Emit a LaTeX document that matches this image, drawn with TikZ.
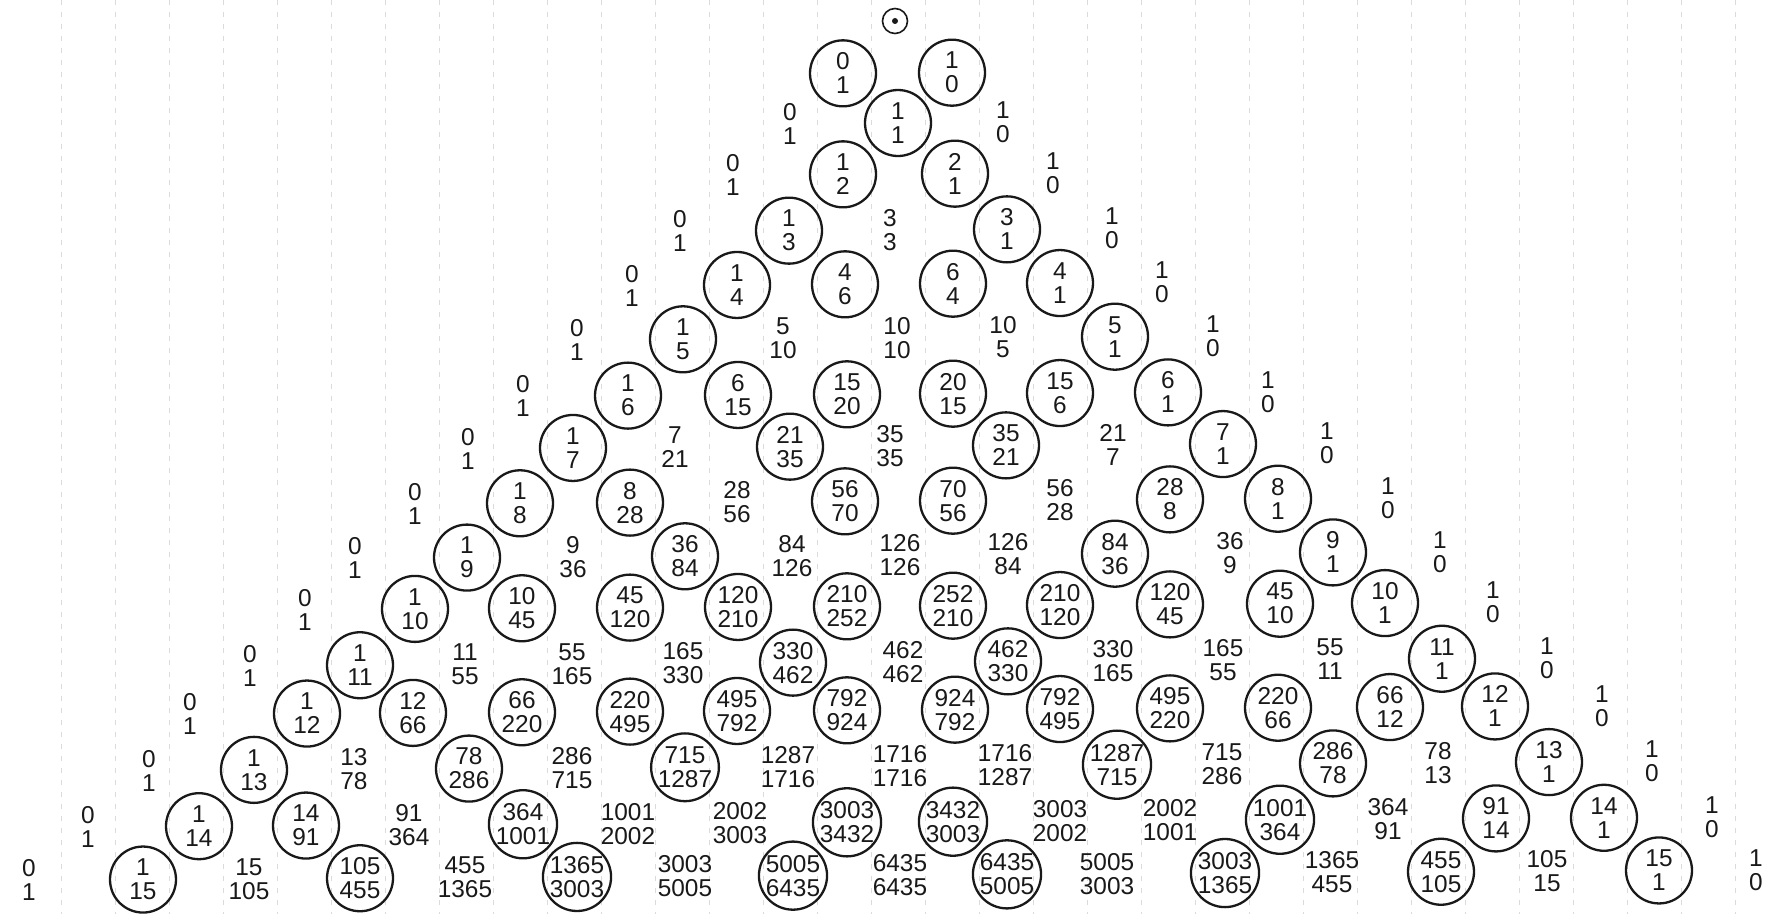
\documentclass[tikz,border=0pt]{standalone}
\usepackage{fontspec}
\newfontfamily\numfont{Liberation Sans}
\definecolor{ink}{gray}{0.1}
\definecolor{rule}{gray}{0.86}
\tikzset{
  num/.style={font=\numfont\fontsize{12.2}{12}\selectfont, align=center, inner sep=0pt, text=ink},
  ring/.style={num, circle, draw=ink, line width=1.15pt, minimum size=33pt},
  bare/.style={num},
  paperline/.style={draw=rule, line width=0.45pt, dash pattern=on 2.5pt off 3.5pt},
}
\newcommand\pyrrow[3]{%
  \foreach \qx/\qa/\qb/\qs [count=\qi] in {#3} {%
    \pgfmathsetmacro\qy{#2-0.006*(\qx-900)}%
    \node[\qs] (r#1-\qi) at (\qx,\qy) {\qa\\\qb};
  }}
\begin{document}
\begin{tikzpicture}[x=0.5pt,y=-0.5pt]
\useasboundingbox (0,0) rectangle (1774,914);
\fill[white] (0,0) rectangle (1774,914);
% faint ruling of the paper
\foreach \j in {0,...,31} \draw[paperline] ({61+54*\j},0) -- ({61+54*\j},914);
% top mark
\node[circle, draw=ink, line width=0.8pt, minimum size=12.5pt, inner sep=0pt] (star) at (895,21) {};
\fill[ink] (star.center) circle (3);
% rows
\pyrrow{0}{73}{843/0/1/ring, 952/1/0/ring}
\pyrrow{1}{123}{790/0/1/bare, 898/1/1/ring, 1003/1/0/bare}
\pyrrow{2}{174}{733/0/1/bare, 843/1/2/ring, 955/2/1/ring, 1053/1/0/bare}
\pyrrow{3}{230}{680/0/1/bare, 789/1/3/ring, 890/3/3/bare, 1007/3/1/ring, 1112/1/0/bare}
\pyrrow{4}{284}{632/0/1/bare, 737/1/4/ring, 845/4/6/ring, 953/6/4/ring, 1060/4/1/ring, 1162/1/0/bare}
\pyrrow{5}{338}{577/0/1/bare, 683/1/5/ring, 783/5/10/bare, 897/10/10/bare, 1003/10/5/bare, 1115/5/1/ring, 1213/1/0/bare}
\pyrrow{6}{394}{523/0/1/bare, 628/1/6/ring, 738/6/15/ring, 847/15/20/ring, 953/20/15/ring, 1060/15/6/ring, 1168/6/1/ring, 1268/1/0/bare}
\pyrrow{7}{446}{468/0/1/bare, 573/1/7/ring, 675/7/21/bare, 790/21/35/ring, 890/35/35/bare, 1006/35/21/ring, 1113/21/7/bare, 1223/7/1/ring, 1327/1/0/bare}
\pyrrow{8}{501}{415/0/1/bare, 520/1/8/ring, 630/8/28/ring, 737/28/56/bare, 845/56/70/ring, 953/70/56/ring, 1060/56/28/bare, 1170/28/8/ring, 1278/8/1/ring, 1388/1/0/bare}
\pyrrow{9}{555}{355/0/1/bare, 467/1/9/ring, 573/9/36/bare, 685/36/84/ring, 792/84/126/bare, 900/126/126/bare, 1008/126/84/bare, 1115/84/36/ring, 1230/36/9/bare, 1333/9/1/ring, 1440/1/0/bare}
\pyrrow{10}{606}{305/0/1/bare, 415/1/10/ring, 522/10/45/ring, 630/45/120/ring, 738/120/210/ring, 847/210/252/ring, 953/252/210/ring, 1060/210/120/ring, 1170/120/45/ring, 1280/45/10/ring, 1385/10/1/ring, 1493/1/0/bare}
\pyrrow{11}{662}{250/0/1/bare, 360/1/11/ring, 465/11/55/bare, 572/55/165/bare, 683/165/330/bare, 793/330/462/ring, 903/462/462/bare, 1008/462/330/ring, 1113/330/165/bare, 1223/165/55/bare, 1330/55/11/bare, 1442/11/1/ring, 1547/1/0/bare}
\pyrrow{12}{710}{190/0/1/bare, 307/1/12/ring, 413/12/66/ring, 522/66/220/ring, 630/220/495/ring, 737/495/792/ring, 847/792/924/ring, 955/924/792/ring, 1060/792/495/ring, 1170/495/220/ring, 1278/220/66/ring, 1390/66/12/ring, 1495/12/1/ring, 1602/1/0/bare}
\pyrrow{13}{766}{149/0/1/bare, 254/1/13/ring, 354/13/78/bare, 469/78/286/ring, 572/286/715/bare, 685/715/1287/ring, 788/1287/1716/bare, 900/1716/1716/bare, 1005/1716/1287/bare, 1117/1287/715/ring, 1222/715/286/bare, 1333/286/78/ring, 1438/78/13/bare, 1549/13/1/ring, 1652/1/0/bare}
\pyrrow{14}{822}{88/0/1/bare, 199/1/14/ring, 306/14/91/ring, 409/91/364/bare, 523/364/1001/ring, 628/1001/2002/bare, 740/2002/3003/bare, 847/3003/3432/ring, 953/3432/3003/ring, 1060/3003/2002/bare, 1170/2002/1001/bare, 1280/1001/364/ring, 1388/364/91/bare, 1496/91/14/ring, 1604/14/1/ring, 1712/1/0/bare}
\pyrrow{15}{875}{29/0/1/bare, 143/1/15/ring, 249/15/105/bare, 360/105/455/ring, 465/455/1365/bare, 577/1365/3003/ring, 685/3003/5005/bare, 793/5005/6435/ring, 900/6435/6435/bare, 1007/6435/5005/ring, 1107/5005/3003/bare, 1225/3003/1365/ring, 1332/1365/455/bare, 1441/455/105/ring, 1547/105/15/bare, 1659/15/1/ring, 1756/1/0/bare}
\end{tikzpicture}
\end{document}
